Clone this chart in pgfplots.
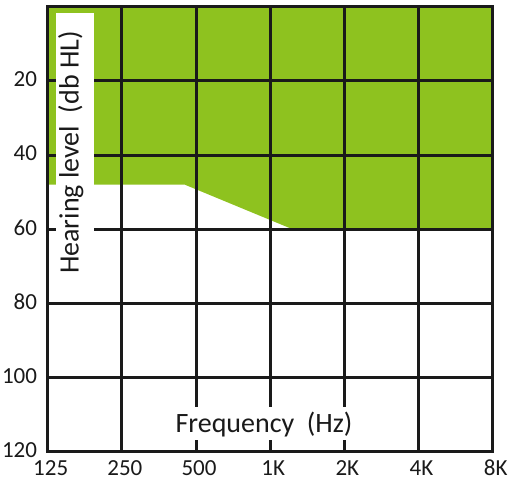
\documentclass[border=0pt]{standalone}
\usepackage{pgfplots}
\pgfplotsset{compat=1.18}
\usepackage{fontspec}
\setmainfont{Carlito}
\definecolor{hgreen}{HTML}{8EC21F}
\definecolor{hline}{HTML}{1A1A1A}
\begin{document}
\begin{tikzpicture}
\path[use as bounding box] (-47.7pt,-36.3pt) rectangle (473.3pt,451.7pt);
\begin{axis}[
  scale only axis, width=445pt, height=445pt,
  xmin=0, xmax=6, ymin=0, ymax=120, y dir=reverse,
  axis on top,
  xtick={0,...,6}, xticklabels={125,250,500,1K,2K,4K,8K},
  ytick={20,40,...,120},
  major tick length=0pt,
  grid=major,
  major grid style={line width=3pt, color=hline},
  axis line style={line width=3pt, color=hline},
  tick label style={font=\fontsize{23}{26}\selectfont, text=hline},
  /pgf/number format/assume math mode=true,
  xticklabel style={anchor=base, inner sep=0pt, yshift=-23.5pt, xshift=3pt},
  yticklabel style={anchor=east, inner sep=0pt, xshift=-10.5pt, yshift=1.5pt},
]
\addplot[fill=hgreen, draw=none] coordinates {(0,0) (0,48) (1.85,48) (3.30,60) (6,60) (6,0)} -- cycle;
\end{axis}
\fill[white] (8.3pt,161.7pt) rectangle (46.3pt,439pt);
\node[rotate=90, font=\fontsize{28}{30}\selectfont, text=hline, inner sep=0pt] at (23pt,299.2pt) {Hearing level\ \ (db HL)};
\fill[white] (117pt,11.7pt) rectangle (312pt,44.7pt);
\node[anchor=base, font=\fontsize{28}{30}\selectfont, text=hline, inner sep=0pt] at (216.3pt,19.7pt) {Frequency\ \ (Hz)};
\end{tikzpicture}
\end{document}
